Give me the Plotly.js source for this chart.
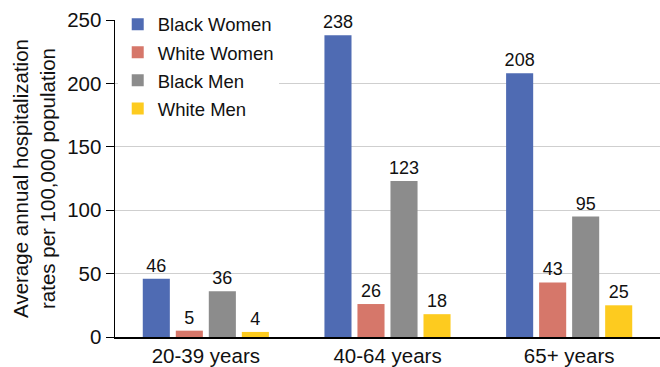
<!DOCTYPE html>
<html>
<head>
<meta charset="utf-8">
<script src="https://cdn.plot.ly/plotly-3.0.1.min.js"></script>
<style>html,body{margin:0;padding:0;background:#fff;}#chart{width:660px;height:367px;}</style>
</head>
<body>
<div id="chart"></div>
<script>
const categories = ["20-39 years", "40-64 years", "65+ years"];
const seriesNames = ["Black Women", "White Women", "Black Men", "White Men"];
const blackWomen = [46, 238, 208];
const whiteWomen = [5, 26, 43];
const blackMen = [36, 123, 95];
const whiteMen = [4, 18, 25];
const seriesValues = [blackWomen, whiteWomen, blackMen, whiteMen];
const seriesColors = ["#4F6BB3", "#D6776A", "#8C8C8C", "#FDCB1F"];
const yTicks = [0, 50, 100, 150, 200, 250];

const FONT = "Liberation Sans, Arial, Helvetica, sans-serif";

const traces = seriesNames.map((name, i) => ({
  type: "bar",
  name: name,
  legendgroup: "g" + i,
  x: categories,
  y: seriesValues[i],
  text: seriesValues[i].map(String),
  textposition: "outside",
  constraintext: "none",
  cliponaxis: false,
  textfont: {family: FONT, size: 18, color: "#111"},
  marker: {color: seriesColors[i], line: {width: 0}},
  hoverinfo: "none"
}));

const layout = {
  width: 660,
  height: 367,
  margin: {l: 115, r: 0, t: 20, b: 30, pad: 0},
  paper_bgcolor: "#fff",
  plot_bgcolor: "#fff",
  barmode: "group",
  bargap: 0.273,
  bargroupgap: 0.18,
  font: {family: FONT, size: 20, color: "#111"},
  showlegend: true,
  legend: {
    x: 0.005, y: 1.045, xanchor: "left", yanchor: "top",
    bgcolor: "#fff",
    font: {family: FONT, size: 18.5, color: "#111"},
    traceorder: "grouped",
    tracegroupgap: 1,
    itemwidth: 30
  },
  xaxis: {
    type: "category",
    range: [-0.5, 2.5],
    showline: true, linecolor: "#000", linewidth: 1.5,
    ticks: "", showgrid: false,
    tickfont: {family: FONT, size: 20.5, color: "#111"},
    fixedrange: true
  },
  yaxis: {
    range: [0, 250],
    tickvals: yTicks,
    ticktext: yTicks.map(String),
    showline: true, linecolor: "#000", linewidth: 1.5,
    ticks: "outside", ticklen: 8, tickcolor: "#000", tickwidth: 1,
    showgrid: true, gridcolor: "#cfcfcf", gridwidth: 1,
    zeroline: false,
    tickfont: {family: FONT, size: 20.5, color: "#111"},
    title: {
      text: "Average annual hospitalization<br>rates per 100,000 population",
      font: {family: FONT, size: 20.5, color: "#111"},
      standoff: 6
    },
    fixedrange: true
  }
};

Plotly.newPlot("chart", traces, layout, {displayModeBar: false, staticPlot: true});
</script>
</body>
</html>
